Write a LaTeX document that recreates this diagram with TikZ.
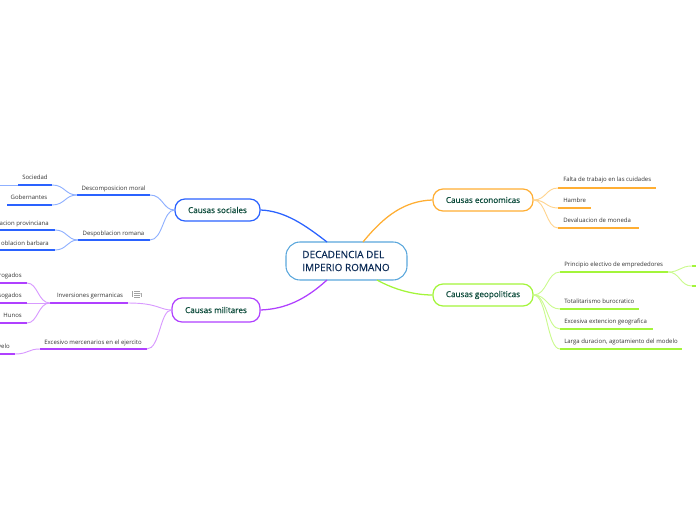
\documentclass[tikz,border=0pt]{standalone}
\usepackage{fontspec}
\setmainfont{Open Sans}
\newfontfamily\semifont{Open Sans}[FakeBold=0.35]
\definecolor{cblue}{HTML}{2A62FF}
\definecolor{corange}{HTML}{FFAE33}
\definecolor{cgreen}{HTML}{A3F53A}
\definecolor{cpurple}{HTML}{B040FF}
\definecolor{lblue}{HTML}{8FB0FF}
\definecolor{lorange}{HTML}{FFD48F}
\definecolor{lgreen}{HTML}{CBFA8F}
\definecolor{lpurple}{HTML}{D89AFF}
\definecolor{ctext}{HTML}{0B4A3A}
\definecolor{rtext}{HTML}{0A2A55}
\definecolor{rborder}{HTML}{5AA7DC}
\definecolor{ltext}{HTML}{333333}
\tikzset{
  x=0.75pt,y=-0.75pt,
  rootbox/.style={draw=rborder,line width=0.8pt,rounded corners=10.5pt,fill=white,minimum width=90.75pt,minimum height=28.5pt,inner sep=0pt},
  catbox/.style={line width=0.9pt,rounded corners=7.5pt,fill=white,minimum height=16.5pt,inner sep=0pt,text=ctext,font=\semifont\fontsize{6.1pt}{8pt}\selectfont},
  leaf/.style={text=ltext,font=\fontsize{4.5pt}{6pt}\selectfont,inner sep=0pt,anchor=base},
  under/.style={line width=1.1pt},
  thin link/.style={line width=0.7pt},
  main link/.style={line width=0.95pt}
}
\begin{document}
\begin{tikzpicture}
\useasboundingbox (0,0) rectangle (696,520);
% root and main branches
\node[rootbox] (root) at (346.5,261) {};
\node[font=\semifont\fontsize{7.5pt}{9.75pt}\selectfont,text=rtext,align=left,anchor=west,inner sep=0pt] (roottext) at (302,261) {DECADENCIA DEL\\IMPERIO ROMANO};
\coordinate (rt1) at (327,242); \coordinate (rt2) at (363,242);
\coordinate (rb1) at (327,280); \coordinate (rb2) at (377,280);
\node[catbox,draw=cblue,minimum width=63.75pt] (soc) at (217.5,210) {Causas sociales};
\node[catbox,draw=cpurple,minimum width=66pt,minimum height=18pt] (mil) at (216,310) {Causas militares};
\node[catbox,draw=corange,minimum width=75pt] (eco) at (483,200) {Causas economicas};
\node[catbox,draw=cgreen,minimum width=75pt] (geo) at (483,295) {Causas geopoliticas};
\draw[main link,cblue] (rt1) .. controls (305,225) and (285,211) .. (soc.east);
\draw[main link,cpurple] (rb1) .. controls (305,300) and (285,309) .. (mil.east);
\draw[main link,corange] (rt2) .. controls (385,215) and (405,201) .. (eco.west);
\draw[main link,cgreen] (rb2) .. controls (395,290) and (415,295) .. (geo.west);
% social
\coordinate (dm1) at (77,195); \coordinate (dm2) at (150,195);
\coordinate (so1) at (18,185); \coordinate (so2) at (52,185);
\coordinate (go1) at (7,205); \coordinate (go2) at (52,205);
\coordinate (dr1) at (78,240); \coordinate (dr2) at (150,240);
\coordinate (pv1) at (0,230); \coordinate (pv2) at (55,230);
\coordinate (pb1) at (0,250); \coordinate (pb2) at (55,250);
\coordinate (sooff) at (0,185);
\draw[under,cblue] (dm1)--(dm2) (so1)--(so2) (go1)--(go2) (dr1)--(dr2) (pv1)--(pv2) (pb1)--(pb2);
\draw[thin link,lblue] (soc.west) .. controls (163,210) and (163,195) .. (dm2);
\draw[thin link,lblue] (soc.west) .. controls (163,210) and (163,240) .. (dr2);
\draw[thin link,lblue] (dm1) .. controls (65,195) and (65,185) .. (so2);
\draw[thin link,lblue] (dm1) .. controls (65,195) and (65,205) .. (go2);
\draw[thin link,lblue] (dr1) .. controls (67,240) and (67,230) .. (pv2);
\draw[thin link,lblue] (dr1) .. controls (67,240) and (67,250) .. (pb2);
\draw[thin link,lblue] (so1)--(sooff);
\node[leaf] (t1) at (113.5,191) {Descomposicion moral};
\node[leaf] (t2) at (35,180) {Sociedad};
\node[leaf] (t3) at (29,200) {Gobernantes};
\node[leaf] (t4) at (113.5,235.5) {Despoblacion romana};
\node[leaf,anchor=base east] (t5) at (49,225.5) {acion provinciana};
\node[leaf,anchor=base east] (t6) at (49,245.5) {oblacion barbara};
% military
\coordinate (ig1) at (50,303); \coordinate (ig2) at (128,303);
\coordinate (ro1) at (0,283); \coordinate (ro2) at (27,283);
\coordinate (sg1) at (0,303); \coordinate (sg2) at (27,303);
\coordinate (hu1) at (0,323); \coordinate (hu2) at (27,323);
\coordinate (em1) at (40,349); \coordinate (em2) at (147,349);
\coordinate (ve1) at (0,354); \coordinate (ve2) at (15,354);
\draw[under,cpurple] (ig1)--(ig2) (ro1)--(ro2) (sg1)--(sg2) (hu1)--(hu2) (em1)--(em2) (ve1)--(ve2);
\draw[thin link,lpurple] (mil.west) .. controls (160,310) and (158,303) .. (ig2);
\draw[thin link,lpurple] (mil.west) .. controls (160,310) and (160,349) .. (em2);
\draw[thin link,lpurple] (ig1) .. controls (38,303) and (38,283) .. (ro2);
\draw[thin link,lpurple] (ig1) -- (sg2);
\draw[thin link,lpurple] (ig1) .. controls (38,303) and (38,323) .. (hu2);
\draw[thin link,lpurple] (em1) .. controls (28,349) and (28,354) .. (ve2);
\node[leaf] (t7) at (90,297.5) {Inversiones germanicas};
\node[leaf,anchor=base east] (t8) at (22,277.5) {rogados};
\node[leaf,anchor=base east] (t9) at (22,297.5) {sogados};
\node[leaf,anchor=base east] (t10) at (22,317.5) {Hunos};
\node[leaf] (t11) at (93,344.5) {Excesivo mercenarios en el ejercito};
\node[leaf,anchor=base east] (t12) at (10,348.5) {velo};
% list icon
\draw[ltext!45,line width=0.35pt] (132,291)--(132,296.8) (134,291)--(139.5,291) (134,293)--(139.5,293) (134,295)--(139.5,295) (134,296.8)--(139.5,296.8);
\node[leaf,font=\fontsize{4pt}{5pt}\selectfont] (icon) at (141.5,298) {1};
% economic
\coordinate (fa1) at (558,188); \coordinate (fa2) at (656,188);
\coordinate (ha1) at (558,208); \coordinate (ha2) at (591,208);
\coordinate (de1) at (558,228); \coordinate (de2) at (639,228);
\draw[under,corange] (fa1)--(fa2) (ha1)--(ha2) (de1)--(de2);
\draw[thin link,lorange] (eco.east) .. controls (546,200) and (546,188) .. (fa1);
\draw[thin link,lorange] (eco.east) .. controls (546,200) and (546,208) .. (ha1);
\draw[thin link,lorange] (eco.east) .. controls (546,200) and (546,228) .. (de1);
\node[leaf,anchor=base west] (t13) at (563,182) {Falta de trabajo en las cuidades};
\node[leaf,anchor=base west] (t14) at (563,202.5) {Hambre};
\node[leaf,anchor=base west] (t15) at (563,222.5) {Devaluacion de moneda};
% geopolitical
\coordinate (pr1) at (560,272); \coordinate (pr2) at (668,272);
\coordinate (to1) at (560,309); \coordinate (to2) at (639,309);
\coordinate (ex1) at (560,329); \coordinate (ex2) at (653,329);
\coordinate (la1) at (560,349); \coordinate (la2) at (682,349);
\coordinate (u1) at (692,266); \coordinate (u2) at (696,266);
\coordinate (d1) at (692,286); \coordinate (d2) at (696,286);
\draw[under,cgreen] (pr1)--(pr2) (to1)--(to2) (ex1)--(ex2) (la1)--(la2) (u1)--(u2) (d1)--(d2);
\draw[thin link,lgreen] (geo.east) .. controls (547,295) and (547,272) .. (pr1);
\draw[thin link,lgreen] (geo.east) .. controls (547,295) and (547,309) .. (to1);
\draw[thin link,lgreen] (geo.east) .. controls (547,295) and (547,329) .. (ex1);
\draw[thin link,lgreen] (geo.east) .. controls (547,295) and (547,349) .. (la1);
\draw[thin link,lgreen] (pr2) .. controls (680,272) and (680,266) .. (u1);
\draw[thin link,lgreen] (pr2) .. controls (680,272) and (680,286) .. (d1);
\node[leaf,anchor=base west] (t16) at (564,266.5) {Principio electivo de emprededores};
\node[leaf,anchor=base west] (t17) at (564,303.5) {Totalitarismo burocratico};
\node[leaf,anchor=base west] (t18) at (564,323.5) {Excesiva extencion geografica};
\node[leaf,anchor=base west] (t19) at (564,343.5) {Larga duracion, agotamiento del modelo};
\end{tikzpicture}
\end{document}
